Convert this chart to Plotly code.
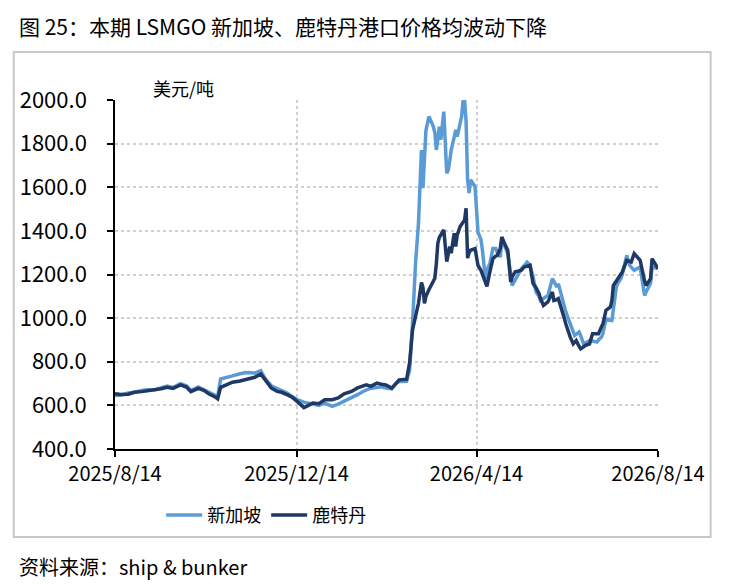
import plotly.graph_objects as go

dates = [
    "2025-08-14","2025-08-18","2025-08-23","2025-08-27","2025-09-01","2025-09-05","2025-09-10","2025-09-14",
    "2025-09-18","2025-09-22","2025-09-27","2025-10-01","2025-10-04","2025-10-09","2025-10-13","2025-10-16",
    "2025-10-20","2025-10-22","2025-10-24","2025-10-28","2025-11-01","2025-11-06","2025-11-10","2025-11-14",
    "2025-11-16","2025-11-20","2025-11-23","2025-11-27","2025-12-01","2025-12-04","2025-12-08","2025-12-11",
    "2025-12-15","2025-12-19","2025-12-22","2025-12-25","2025-12-29","2026-01-02","2026-01-07","2026-01-11",
    "2026-01-15","2026-01-20","2026-01-24","2026-01-28","2026-01-30","2026-02-02","2026-02-06","2026-02-09",
    "2026-02-12","2026-02-16","2026-02-19","2026-02-21","2026-02-26","2026-02-28","2026-03-02","2026-03-04",
    "2026-03-06","2026-03-08","2026-03-09","2026-03-10","2026-03-11","2026-03-13","2026-03-16","2026-03-17",
    "2026-03-18","2026-03-19","2026-03-20","2026-03-21","2026-03-23","2026-03-25","2026-03-26","2026-03-27",
    "2026-03-28","2026-03-30","2026-03-31","2026-04-01","2026-04-03","2026-04-04","2026-04-05","2026-04-06",
    "2026-04-07","2026-04-08","2026-04-09","2026-04-10","2026-04-13","2026-04-15","2026-04-17","2026-04-18",
    "2026-04-20","2026-04-21","2026-04-23","2026-04-25","2026-04-27","2026-04-28","2026-04-30","2026-05-01",
    "2026-05-03","2026-05-05","2026-05-07","2026-05-08","2026-05-10","2026-05-14","2026-05-16","2026-05-18",
    "2026-05-20","2026-05-22","2026-05-24","2026-05-26","2026-05-27","2026-05-29","2026-06-01","2026-06-04",
    "2026-06-05","2026-06-07","2026-06-08","2026-06-12","2026-06-13","2026-06-16","2026-06-18","2026-06-19",
    "2026-06-20","2026-06-22","2026-06-23","2026-06-25","2026-06-26","2026-06-29","2026-07-01","2026-07-04",
    "2026-07-05","2026-07-07","2026-07-08","2026-07-10","2026-07-13","2026-07-14","2026-07-15","2026-07-17",
    "2026-07-18","2026-07-20","2026-07-21","2026-07-24","2026-07-26","2026-07-27","2026-07-29","2026-08-02",
    "2026-08-05","2026-08-06","2026-08-08","2026-08-09","2026-08-10","2026-08-13","2026-08-14",
]

singapore = [
    645,648,657,660,668,672,672,680,
    688,682,700,690,668,684,670,660,
    645,640,721,727,735,745,751,750,
    748,759,722,690,678,670,655,640,
    625,615,610,605,600,610,595,606,
    618,635,649,665,672,679,682,685,
    679,676,700,709,710,760,977,1250,
    1435,1771,1596,1700,1860,1924,1878,1850,
    1771,1820,1878,1817,1947,1664,1679,1720,
    1771,1830,1863,1832,1908,1924,2000,2000,
    1900,1634,1573,1634,1603,1395,1360,1311,
    1181,1220,1250,1319,1319,1300,1280,1357,
    1330,1296,1200,1150,1175,1225,1240,1257,
    1242,1190,1120,1100,1081,1090,1104,1181,
    1170,1143,1158,1051,1030,974,940,920,
    925,936,920,882,885,897,895,890,
    900,913,930,997,990,989,1040,1143,
    1160,1181,1200,1288,1242,1235,1219,1234,
    1104,1120,1150,1160,1234,1230,1227,
]

rotterdam = [
    653,650,651,660,663,667,670,676,
    683,678,694,684,663,678,668,653,
    640,630,683,695,706,712,718,725,
    729,744,718,680,664,660,648,638,
    615,590,600,611,608,626,626,634,
    653,664,680,690,694,687,702,697,
    694,679,705,717,720,794,946,1010,
    1068,1163,1140,1068,1100,1130,1170,1183,
    1250,1343,1370,1380,1404,1259,1300,1328,
    1298,1389,1328,1380,1420,1430,1440,1450,
    1504,1275,1300,1311,1319,1242,1219,1198,
    1165,1146,1212,1273,1285,1288,1320,1372,
    1340,1311,1166,1190,1212,1219,1234,1240,
    1242,1158,1140,1113,1090,1058,1074,1120,
    1081,1085,1089,1000,974,913,882,890,
    897,870,859,868,874,882,928,928,
    928,960,974,1035,1051,1080,1150,1170,
    1181,1200,1212,1265,1260,1257,1296,1265,
    1170,1150,1170,1181,1273,1234,1227,
]

tick_dates = ["2025-08-14", "2025-12-14", "2026-04-14", "2026-08-14"]
tick_labels = ["2025/8/14", "2025/12/14", "2026/4/14", "2026/8/14"]
y_ticks = [400, 600, 800, 1000, 1200, 1400, 1600, 1800, 2000]

FONT = "Liberation Sans Narrow, Noto Sans CJK SC, sans-serif"
CJK = "Noto Sans CJK SC, sans-serif"

fig = go.Figure()
fig.add_trace(go.Scatter(x=dates, y=singapore, mode="lines", name="新加坡",
                         line=dict(color="#5B9BD5", width=3.5)))
fig.add_trace(go.Scatter(x=dates, y=rotterdam, mode="lines", name="鹿特丹",
                         line=dict(color="#1F3864", width=3.5)))

fig.update_layout(
    width=733, height=584,
    margin=dict(l=103, r=83, t=92, b=143),
    paper_bgcolor="white", plot_bgcolor="white",
    font=dict(family=FONT, color="black", size=20),
    showlegend=True,
    legend=dict(orientation="h", x=0.085, xanchor="left", y=-0.19, yanchor="middle",
                font=dict(family=CJK, size=18), itemwidth=36, tracegroupgap=0,
                bgcolor="rgba(0,0,0,0)"),
    xaxis=dict(
        type="date", range=["2025-08-14", "2026-08-14"],
        tickvals=tick_dates, ticktext=tick_labels,
        showline=True, linecolor="black", linewidth=1.5,
        ticks="outside", ticklen=6, tickcolor="black", tickwidth=1.5,
        showgrid=True, gridcolor="#d0d0d0", griddash="dot", gridwidth=1.5,
        tickfont=dict(family=FONT, size=20), zeroline=False,
    ),
    yaxis=dict(
        range=[400, 2000], tickvals=y_ticks, tickformat=".1f",
        showline=True, linecolor="black", linewidth=1.5,
        ticks="outside", ticklen=6, tickcolor="black", tickwidth=1.5,
        showgrid=True, gridcolor="#d0d0d0", griddash="dot", gridwidth=1.5,
        tickfont=dict(family=FONT, size=22), ticklabelstandoff=16, zeroline=False,
    ),
)

fig.add_shape(type="rect", xref="paper", yref="paper",
              x0=-0.1865, x1=1.0969, y0=-0.2521, y1=1.1375,
              line=dict(color="#c8c8c8", width=2), fillcolor="rgba(0,0,0,0)", layer="below")

fig.add_annotation(text="图 25：本期 LSMGO 新加坡、鹿特丹港口价格均波动下降",
                   xref="paper", yref="paper", x=-0.181, y=1.262, xanchor="left", yanchor="top",
                   showarrow=False, font=dict(family=CJK, size=21, color="black"))
fig.add_annotation(text="美元/吨", xref="paper", yref="paper", x=0.066, y=1.034,
                   xanchor="left", yanchor="middle", showarrow=False,
                   font=dict(family=CJK, size=18, color="black"))
fig.add_annotation(text="资料来源：ship & bunker", xref="paper", yref="paper",
                   x=-0.181, y=-0.336, xanchor="left", yanchor="middle", showarrow=False,
                   font=dict(family=CJK, size=20, color="black"))

fig.write_html("out.html")
